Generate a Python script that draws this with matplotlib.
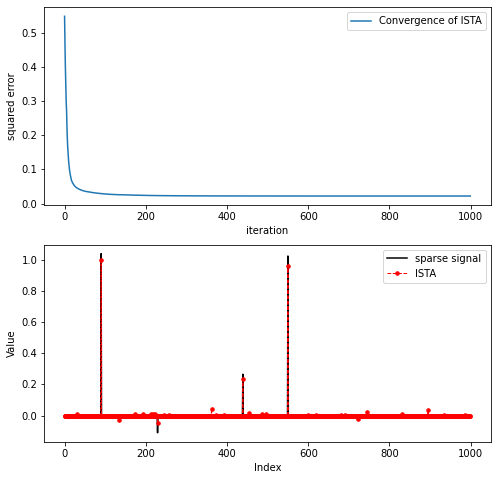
import numpy as np
import matplotlib
matplotlib.use("Agg")
import matplotlib.pyplot as plt

# convergence of ISTA
iters = [0, 1, 2, 3, 4, 5, 6, 7, 8, 10, 12, 14, 17, 20, 25, 30, 36, 42, 50, 60, 70, 83, 100,
         112, 130, 153, 180, 210, 235, 270, 310, 400, 500, 600, 700, 800, 900, 999]
sq_error = [0.55, 0.47, 0.40, 0.35, 0.30, 0.27, 0.22, 0.185, 0.16, 0.125, 0.10, 0.085, 0.068,
            0.060, 0.051, 0.046, 0.042, 0.039, 0.036, 0.034, 0.032, 0.030, 0.028,
            0.027, 0.026, 0.0253, 0.0243, 0.0236, 0.0232, 0.0228, 0.0225, 0.0222, 0.0221,
            0.022, 0.022, 0.022, 0.022, 0.022]

# sparse signal, length 1000, nonzero entries
n = 1000
sparse_idx = [90, 229, 439, 550]
sparse_val = [1.04, -0.11, 0.266, 1.025]

# ISTA estimate, nonzero entries
ista_idx = [31, 90, 135, 173, 192, 213, 218, 223, 229, 246, 256, 362, 373, 392, 439, 453,
            486, 497, 550, 600, 620, 680, 690, 722, 744, 778, 832, 868, 895, 935, 955, 985]
ista_val = [0.008, 1.0, -0.028, 0.01, 0.01, 0.01, 0.01, 0.01, -0.05, 0.006, 0.006, 0.044,
            0.006, 0.006, 0.233, 0.014, 0.012, 0.008, 0.963, 0.005, 0.005, 0.005, 0.005,
            -0.022, 0.025, -0.005, 0.012, -0.005, 0.033, 0.006, -0.005, 0.006]

x = np.zeros(n)
x[sparse_idx] = sparse_val
x_ista = np.zeros(n)
x_ista[ista_idx] = ista_val

fig = plt.figure(figsize=(497 / 72, 480 / 72), dpi=72)

ax1 = fig.add_axes([0.0891, 0.5729, 0.8979, 0.4119])
ax1.plot(iters, sq_error, label="Convergence of ISTA")
ax1.set_xlabel("iteration")
ax1.set_ylabel("squared error")
ax1.legend(loc="upper right")

ax2 = fig.add_axes([0.0891, 0.0798, 0.8979, 0.4104])
ax2.plot(x, "k", label="sparse signal")
ax2.plot(x_ista, "r.--", linewidth=1, markersize=7, label="ISTA")
ax2.set_xlabel("Index")
ax2.set_ylabel("Value")
ax2.legend(loc="upper right")

fig.savefig("out.png", dpi=72)
